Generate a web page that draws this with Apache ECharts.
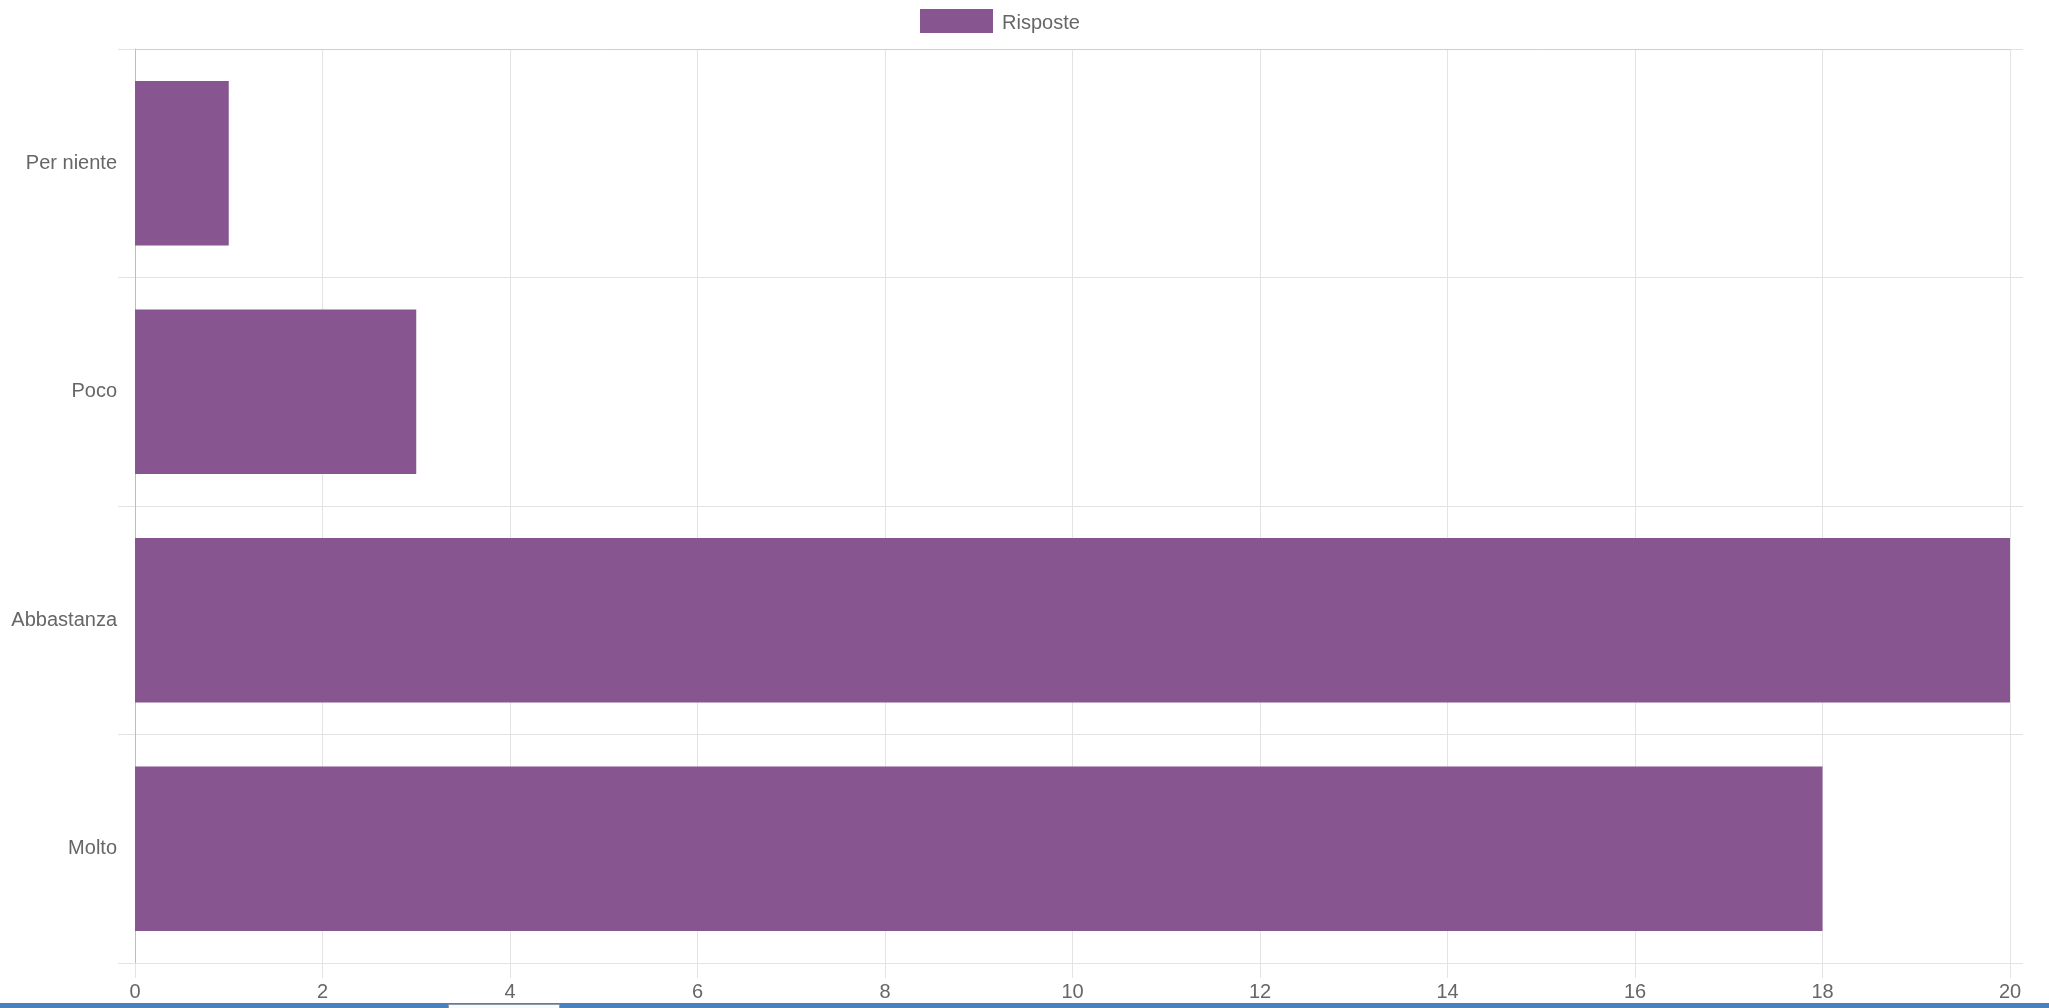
<!DOCTYPE html>
<html>
<head>
<meta charset="utf-8">
<title>Risposte</title>
<script src="https://cdn.jsdelivr.net/npm/echarts@6/dist/echarts.min.js"></script>
<style>
  html, body { margin: 0; padding: 0; background: #fff; }
  #chart { width: 2049px; height: 1008px; }
</style>
</head>
<body>
<div id="chart"></div>
<script>
// Answer categories, top to bottom
const categories = ['Per niente', 'Poco', 'Abbastanza', 'Molto'];
// Number of answers per category
const risposte = [1, 3, 20, 18];
// Value axis range and step
const xMin = 0;
const xMax = 20;
const xStep = 2;

const textColor = '#666';
const fontFamily = '"Liberation Sans", Arial, Helvetica, sans-serif';
const gridColor = '#e3e3e3';

const chart = echarts.init(document.getElementById('chart'), null, { renderer: 'canvas' });

chart.setOption({
  animation: false,
  backgroundColor: '#fff',
  legend: {
    data: ['Risposte'],
    left: 920,
    top: 9,
    padding: 0,
    icon: 'rect',
    itemWidth: 73,
    itemHeight: 24,
    formatter: '{t|{name}}',
    textStyle: {
      color: textColor, fontSize: 20, fontFamily: fontFamily,
      rich: { t: { color: textColor, fontSize: 20, fontFamily: fontFamily, padding: [4, 0, 0, 4] } }
    }
  },
  grid: [
    // plot area
    { left: 135, right: 39, top: 49, bottom: 45, containLabel: false },
    // wider band carrying the category separators past the right edge
    { left: 135, right: 26, top: 49, bottom: 45, containLabel: false }
  ],
  xAxis: [
    {
      type: 'value',
      gridIndex: 0,
      position: 'bottom',
      min: xMin,
      max: xMax,
      interval: xStep,
      axisLine: { show: true, lineStyle: { color: gridColor, width: 1 } },
      axisTick: { show: true, length: 15, lineStyle: { color: gridColor } },
      axisLabel: { margin: 19, color: textColor, fontSize: 20, fontFamily: fontFamily },
      splitLine: { show: true, lineStyle: { color: gridColor, width: 1 } }
    },
    {
      type: 'value',
      gridIndex: 0,
      position: 'top',
      min: xMin,
      max: xMax,
      interval: xStep,
      axisLine: { show: true, lineStyle: { color: '#cfcfcf', width: 1 } },
      axisTick: { show: false },
      axisLabel: { show: false },
      splitLine: { show: false }
    },
    {
      type: 'value',
      gridIndex: 1,
      min: 0,
      max: 1,
      show: false
    }
  ],
  yAxis: [
    {
      type: 'category',
      gridIndex: 0,
      data: categories,
      inverse: true,
      axisLine: { show: true, lineStyle: { color: '#bdbdbd', width: 1 } },
      axisTick: { show: true, length: 17, lineStyle: { color: gridColor } },
      axisLabel: { margin: 18, color: textColor, fontSize: 20, fontFamily: fontFamily },
      splitLine: { show: true, lineStyle: { color: gridColor, width: 1 } }
    },
    {
      type: 'category',
      gridIndex: 1,
      data: categories,
      inverse: true,
      axisLine: { show: false },
      axisTick: { show: false },
      axisLabel: { show: false },
      splitLine: { show: true, lineStyle: { color: gridColor, width: 1 } }
    }
  ],
  series: [
    {
      name: 'Risposte',
      type: 'bar',
      xAxisIndex: 0,
      yAxisIndex: 0,
      data: risposte,
      barWidth: '72%',
      itemStyle: { color: '#87558f' },
      z: 3
    }
  ],
  graphic: [
    {
      type: 'rect',
      left: 0,
      top: 1003,
      shape: { width: 2049, height: 5 },
      style: { fill: '#4a7fc0' },
      silent: true
    },
    {
      type: 'rect',
      left: 448,
      top: 1004,
      shape: { width: 111, height: 4 },
      style: { fill: '#fafafa', stroke: '#8a9bb0', lineWidth: 1 },
      silent: true
    }
  ]
});
</script>
</body>
</html>
